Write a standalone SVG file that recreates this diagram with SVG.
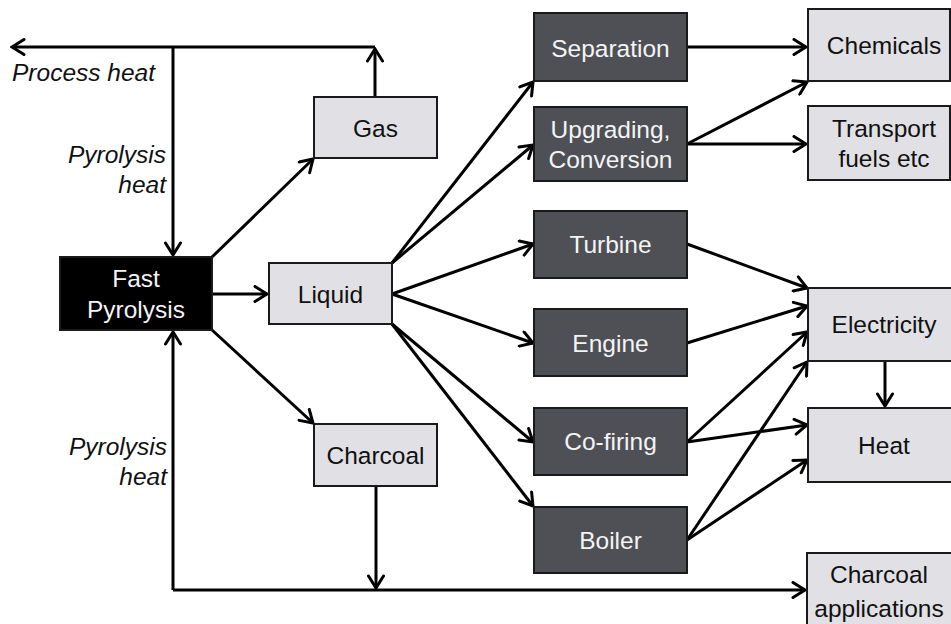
<svg xmlns="http://www.w3.org/2000/svg" width="951" height="624" viewBox="0 0 951 624">
<defs>
<marker id="ah" viewBox="-14 -9 16 18" markerWidth="16" markerHeight="18" refX="0" refY="0" orient="auto" markerUnits="userSpaceOnUse">
<path d="M-12,-7.5 L0,0 L-12,7.5" fill="none" stroke="#000" stroke-width="3" stroke-linecap="round" stroke-linejoin="miter"/>
</marker>
</defs>
<style>
.lt{fill:#e1e1e5;stroke:#1a1a1a;stroke-width:2}
.dk{fill:#4e5056;stroke:#1a1a1a;stroke-width:2}
.bk{fill:#000;stroke:#1a1a1a;stroke-width:2}
text{font-family:"Liberation Sans",Arial,sans-serif;font-size:24.5px;text-anchor:middle}
.tl{fill:#111}
.tw{fill:#f4f4f4}
.it{font-style:italic;fill:#111;text-anchor:end}
.st{text-anchor:start}
.c{fill:none;stroke:#000;stroke-width:3}
.a{fill:none;stroke:#000;stroke-width:3;marker-end:url(#ah)}
</style>
<rect width="951" height="624" fill="#fff"/>
<g id="connectors">
<path class="c" d="M173,47 H375"/>
<path class="a" d="M173,47 H12"/>
<path class="a" d="M375,97 V49"/>
<path class="a" d="M173,47 V255"/>
<path class="a" d="M173,590 V332"/>
<path class="a" d="M173,590 H805"/>
<path class="a" d="M376,486 V588"/>
<path class="a" d="M212,257 L313,159"/>
<path class="a" d="M212,294 H267"/>
<path class="a" d="M212,330 L313,423"/>
<path class="a" d="M392,263 L533,82"/>
<path class="a" d="M392,263 L533,145"/>
<path class="a" d="M392,294 L533,244"/>
<path class="a" d="M392,294 L533,343"/>
<path class="a" d="M392,324 L533,442"/>
<path class="a" d="M392,324 L533,506"/>
<path class="a" d="M687,47 H806"/>
<path class="a" d="M687,144 L807,82"/>
<path class="a" d="M687,144 H806"/>
<path class="a" d="M687,244 L807,288"/>
<path class="a" d="M687,343 L807,306"/>
<path class="a" d="M687,442 L807,332"/>
<path class="a" d="M687,442 L807,425"/>
<path class="a" d="M687,540 L807,362"/>
<path class="a" d="M687,540 L807,460"/>
<path class="a" d="M885,361 V406"/>
</g>
<text class="it st" x="12" y="81">Process heat</text>
<text class="it" x="166" y="163">Pyrolysis</text>
<text class="it" x="166" y="193">heat</text>
<text class="it" x="167" y="455">Pyrolysis</text>
<text class="it" x="167" y="485">heat</text>
<g id="fast-pyrolysis"><rect class="bk" x="60" y="257" width="152" height="73"/><text class="tw" x="136" y="287">Fast</text><text class="tw" x="136" y="318">Pyrolysis</text></g>
<g id="gas"><rect class="lt" x="314" y="97" width="123" height="61"/><text class="tl" x="375.5" y="137">Gas</text></g>
<g id="liquid"><rect class="lt" x="269" y="263" width="123" height="61"/><text class="tl" x="330.5" y="303">Liquid</text></g>
<g id="charcoal"><rect class="lt" x="314" y="424" width="123" height="62"/><text class="tl" x="375.5" y="464">Charcoal</text></g>
<g id="separation"><rect class="dk" x="534" y="13" width="153" height="68"/><text class="tw" x="610.5" y="57">Separation</text></g>
<g id="upgrading"><rect class="dk" x="534" y="107" width="153" height="74"/><text class="tw" x="610.5" y="138">Upgrading,</text><text class="tw" x="610.5" y="168">Conversion</text></g>
<g id="turbine"><rect class="dk" x="534" y="211" width="153" height="67"/><text class="tw" x="610.5" y="253">Turbine</text></g>
<g id="engine"><rect class="dk" x="534" y="309" width="153" height="67"/><text class="tw" x="610.5" y="352">Engine</text></g>
<g id="co-firing"><rect class="dk" x="534" y="408" width="153" height="67"/><text class="tw" x="610.5" y="450">Co-firing</text></g>
<g id="boiler"><rect class="dk" x="534" y="507" width="153" height="66"/><text class="tw" x="610.5" y="549">Boiler</text></g>
<g id="chemicals"><rect class="lt" x="808" y="9" width="142" height="72"/><text class="tl" x="884" y="54">Chemicals</text></g>
<g id="transport-fuels"><rect class="lt" x="808" y="106" width="142" height="74"/><text class="tl" x="884" y="137">Transport</text><text class="tl" x="884" y="167">fuels etc</text></g>
<g id="electricity"><rect class="lt" x="808" y="288" width="145" height="73"/><text class="tl" x="884" y="333">Electricity</text></g>
<g id="heat"><rect class="lt" x="808" y="408" width="145" height="74"/><text class="tl" x="884" y="454">Heat</text></g>
<g id="charcoal-applications"><rect class="lt" x="807" y="553" width="146" height="75"/><text class="tl" x="879" y="583">Charcoal</text><text class="tl" x="879" y="617">applications</text></g>
</svg>
